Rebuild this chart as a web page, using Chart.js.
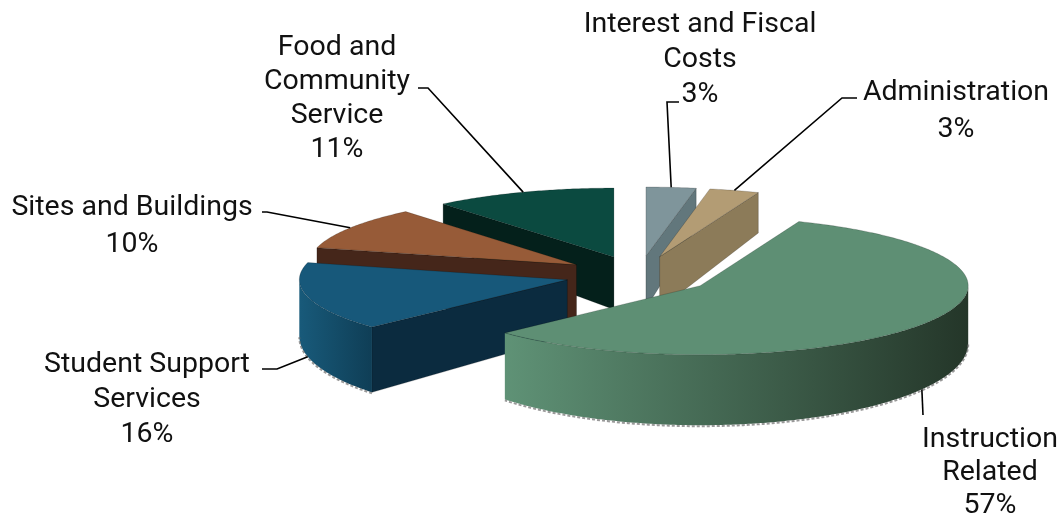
<!DOCTYPE html>
<html><head><meta charset="utf-8">
<script src="https://cdn.jsdelivr.net/npm/chart.js@4.4.1/dist/chart.umd.min.js"></script>
<style>html,body{margin:0;padding:0;background:#fff}#wrap{width:1064px;height:517px;position:relative}</style>
</head><body><div id="wrap"><canvas id="c" width="1064" height="517"></canvas></div>
<script>
// ---- data ----
const categories = ['Interest and Fiscal Costs','Administration','Instruction Related','Student Support Services','Sites and Buildings','Food and Community Service'];
const percentages = [3, 3, 57, 16, 10, 11];
const labelLines = [['Interest and Fiscal','Costs'],['Administration'],['Instruction','Related'],['Student Support','Services'],['Sites and Buildings'],['Food and','Community','Service']];

// ---- styles ----
const topColors  = ['#7f959b','#b39c74','#5e8f74','#17587a','#975b38','#0b4a40'];
const faceColors = ['#62777c','#8c7b59','#2f4a3a','#0b2b3f','#45261a','#04201b'];
const wallFrom   = ['#6d8388','#9c8963','#5f9276','#185a7a','#7a4a2e','#093e36'];
const wallTo     = ['#4d6065','#75664a','#243629','#0f3e56','#4a2a1b','#052a25'];
const TILT = 0.2575, EXPLODE = 74;
const depthAt = y => Math.max(36, 40 + (y - 190) * 0.185);
const labelLayout = [
  {x:700, y0:32, lh:35, lead:[[679,102],[667,102]], front:false},
  {x:956, y0:100, lh:37, lead:[[857,98],[842,98]], front:false},
  {x:990, y0:447, lh:33, lead:[[923,415]], front:true},
  {x:147, y0:372, lh:35, lead:[[262,369],[277,369]], front:true},
  {x:132, y0:215, lh:37, lead:[[262,212],[267,212]], front:false},
  {x:337, y0:55, lh:34, lead:[[418,88],[428,88]], front:false}
];

function rim(s, a){ return [s.tx + s.R*Math.cos(a), s.ty + s.R*TILT*Math.sin(a)]; }
function drop(p){ return [p[0], p[1] + depthAt(p[1])]; }
function poly(ctx, pts, fill, stroke){
  ctx.beginPath(); ctx.moveTo(pts[0][0], pts[0][1]);
  for (let i=1;i<pts.length;i++) ctx.lineTo(pts[i][0], pts[i][1]);
  ctx.closePath(); ctx.fillStyle = fill; ctx.fill();
  if (stroke){ ctx.strokeStyle = stroke; ctx.lineWidth = 0.8; ctx.stroke(); }
}
function drawSlice(ctx, s){
  const i = s.i, a = s.startAngle, b = s.endAngle, tip = [s.tx, s.ty];
  // radial faces
  if (Math.cos(a) < -1e-6){ const p = rim(s,a); poly(ctx,[tip,p,drop(p),drop(tip)], faceColors[i], 'rgba(0,0,0,0.25)'); }
  if (Math.cos(b) > 1e-6){ const p = rim(s,b); poly(ctx,[tip,p,drop(p),drop(tip)], faceColors[i], 'rgba(0,0,0,0.25)'); }
  // curved wall (front half)
  const w0 = Math.max(a, 0), w1 = Math.min(b, Math.PI);
  if (w1 > w0){
    const n = Math.max(4, Math.ceil((w1-w0)*90));
    const top = [], bot = [];
    for (let j=0;j<=n;j++){ const p = rim(s, w0 + (w1-w0)*j/n); top.push(p); bot.push(drop(p)); }
    const xs = top.map(p=>p[0]);
    const g = ctx.createLinearGradient(Math.min(...xs),0,Math.max(...xs),0);
    g.addColorStop(0, wallFrom[i]); g.addColorStop(1, wallTo[i]);
    poly(ctx, top.concat(bot.slice().reverse()), g, null);
    ctx.save(); ctx.beginPath(); ctx.moveTo(bot[0][0], bot[0][1]+1);
    for (const p of bot) ctx.lineTo(p[0], p[1]+1);
    ctx.strokeStyle = 'rgba(110,110,110,0.7)'; ctx.lineWidth = 2; ctx.setLineDash([3,2]); ctx.stroke(); ctx.restore();
  }
  // top face
  const n = Math.max(4, Math.ceil((b-a)*90));
  const pts = [tip];
  for (let j=0;j<=n;j++) pts.push(rim(s, a + (b-a)*j/n));
  poly(ctx, pts, topColors[i], 'rgba(0,0,0,0.22)');
}

const pie3d = {
  id: 'pie3d',
  beforeDatasetsDraw(chart){
    const ctx = chart.ctx, meta = chart.getDatasetMeta(0);
    const slices = meta.data.map((arc, i) => {
      const p = arc.getProps(['x','y','startAngle','endAngle','outerRadius'], true);
      const mid = (p.startAngle + p.endAngle)/2;
      return {i, startAngle:p.startAngle, endAngle:p.endAngle, R:p.outerRadius, mid,
        tx: p.x + EXPLODE*Math.cos(mid), ty: p.y + EXPLODE*TILT*Math.sin(mid)};
    });
    chart.$slices = slices.slice();
    slices.sort((u,v)=>u.ty - v.ty);
    ctx.save();
    for (const s of slices) drawSlice(ctx, s);
    ctx.restore();
    return false;
  },
  afterDraw(chart){
    const ctx = chart.ctx;
    ctx.save();
    ctx.font = '28.5px Roboto';
    ctx.fillStyle = '#111'; ctx.textAlign = 'center'; ctx.textBaseline = 'alphabetic';
    chart.$slices.forEach(s => {
      const L = labelLayout[s.i];
      const lines = labelLines[s.i].concat([percentages[s.i] + '%']);
      lines.forEach((t, k) => ctx.fillText(t, L.x, L.y0 + k*L.lh));
      let anc = rim(s, s.mid);
      if (L.front) anc = drop(anc);
      const path = L.lead.concat([anc]);
      ctx.beginPath(); ctx.moveTo(path[0][0], path[0][1]);
      for (let k=1;k<path.length;k++) ctx.lineTo(path[k][0], path[k][1]);
      ctx.strokeStyle = '#000'; ctx.lineWidth = 1.6; ctx.stroke();
    });
    ctx.restore();
  }
};

new Chart(document.getElementById('c').getContext('2d'), {
  type: 'pie',
  data: { labels: categories, datasets: [{ data: percentages, backgroundColor: topColors, borderWidth: 0 }] },
  options: {
    responsive: false, animation: false, events: [],
    radius: 268,
    layout: { padding: { left: 214, top: 33, right: 0, bottom: 0 } },
    plugins: { legend: { display: false }, tooltip: { enabled: false } }
  },
  plugins: [pie3d]
});
</script></body></html>
